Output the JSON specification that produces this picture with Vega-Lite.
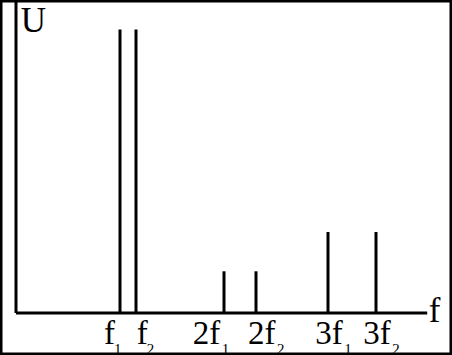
{
  "$schema": "https://vega.github.io/schema/vega-lite/v6.json",
  "autosize": "none",
  "padding": 0,
  "width": 452,
  "height": 355,
  "background": "white",
  "config": {"view": {"stroke": "#000", "strokeWidth": 5}},
  "datasets": {
    "spikes": [
      {"name": "f1", "f": 1.3, "U": 7},
      {"name": "f2", "f": 1.5, "U": 7},
      {"name": "2f1", "f": 2.6, "U": 1.03},
      {"name": "2f2", "f": 3.0, "U": 1.03},
      {"name": "3f1", "f": 3.9, "U": 2},
      {"name": "3f2", "f": 4.5, "U": 2}
    ],
    "ticklabels": [
      {"main": "f", "sub": "1", "k": 1, "at": 1.1, "y": -0.765, "ys": -1.0},
      {"main": "f", "sub": "2", "k": 1, "at": 1.51, "y": -0.765, "ys": -1.0},
      {"main": "2f", "sub": "1", "k": 2, "at": 2.21, "y": -0.765, "ys": -1.0},
      {"main": "2f", "sub": "2", "k": 2, "at": 2.9, "y": -0.765, "ys": -1.0},
      {"main": "3f", "sub": "1", "k": 2, "at": 3.74, "y": -0.765, "ys": -1.0},
      {"main": "3f", "sub": "2", "k": 2, "at": 4.34, "y": -0.765, "ys": -1.0}
    ],
    "axes": [
      {"axis": "x", "x1": 0, "x2": 5.14, "y1": 0, "y2": 0},
      {"axis": "y", "x1": 0, "x2": 0, "y1": 0, "y2": 7.72}
    ],
    "titles": [
      {"t": "U", "x": 0.06, "y": 6.94},
      {"t": "f", "x": 5.16, "y": -0.222}
    ]
  },
  "layer": [
    {
      "data": {"name": "axes"},
      "mark": {"type": "rule", "color": "#000", "strokeWidth": 3},
      "encoding": {
        "x": {"field": "x1", "type": "quantitative", "scale": {"domain": [-0.2, 5.45], "nice": false, "zero": false}, "axis": null},
        "x2": {"field": "x2"},
        "y": {"field": "y1", "type": "quantitative", "scale": {"domain": [-1.037, 7.7284], "nice": false, "zero": false}, "axis": null},
        "y2": {"field": "y2"}
      }
    },
    {
      "data": {"name": "spikes"},
      "mark": {"type": "rule", "color": "#000", "strokeWidth": 3},
      "encoding": {
        "x": {"field": "f", "type": "quantitative", "axis": null},
        "y": {"field": "U", "type": "quantitative", "axis": null},
        "y2": {"datum": 0}
      }
    },
    {
      "data": {"name": "ticklabels"},
      "mark": {"type": "text", "font": "Liberation Serif", "fontSize": 33, "align": "left", "baseline": "alphabetic", "color": "#000"},
      "encoding": {
        "x": {"field": "at", "type": "quantitative", "axis": null},
        "y": {"field": "y", "type": "quantitative", "axis": null},
        "text": {"field": "main"}
      }
    },
    {
      "data": {"name": "ticklabels"},
      "transform": [{"filter": "datum.k == 1"}],
      "mark": {"type": "text", "font": "Liberation Serif", "fontSize": 15, "align": "left", "baseline": "alphabetic", "color": "#000", "dx": 10},
      "encoding": {
        "x": {"field": "at", "type": "quantitative", "axis": null},
        "y": {"field": "ys", "type": "quantitative", "axis": null},
        "text": {"field": "sub"}
      }
    },
    {
      "data": {"name": "ticklabels"},
      "transform": [{"filter": "datum.k == 2"}],
      "mark": {"type": "text", "font": "Liberation Serif", "fontSize": 15, "align": "left", "baseline": "alphabetic", "color": "#000", "dx": 29},
      "encoding": {
        "x": {"field": "at", "type": "quantitative", "axis": null},
        "y": {"field": "ys", "type": "quantitative", "axis": null},
        "text": {"field": "sub"}
      }
    },
    {
      "data": {"name": "titles"},
      "mark": {"type": "text", "font": "Liberation Serif", "fontSize": 35, "align": "left", "baseline": "alphabetic", "color": "#000"},
      "encoding": {
        "x": {"field": "x", "type": "quantitative", "axis": null},
        "y": {"field": "y", "type": "quantitative", "axis": null},
        "text": {"field": "t"}
      }
    }
  ]
}
